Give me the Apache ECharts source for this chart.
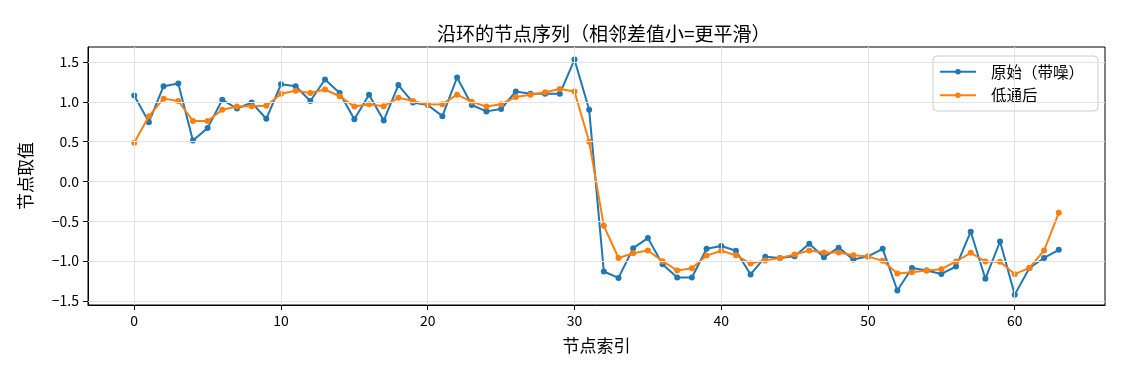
<!DOCTYPE html>
<html>
<head>
<meta charset="utf-8">
<script src="https://cdn.jsdelivr.net/npm/echarts@6/dist/echarts.min.js"></script>
<style>
html,body{margin:0;padding:0;background:#fff;}
#chart{width:1125px;height:375px;}
</style>
</head>
<body>
<div id="chart"></div>
<script>
const titleText = '沿环的节点序列（相邻差值小=更平滑）';
const xName = '节点索引';
const yName = '节点取值';
const seriesNames = ['原始（带噪）', '低通后'];
const xTicks = [0, 10, 20, 30, 40, 50, 60];
const yTicks = [-1.5, -1.0, -0.5, 0.0, 0.5, 1.0, 1.5];

const rawValues = [
  1.08, 0.745, 1.196, 1.23, 0.515, 0.67, 1.025, 0.916, 0.99, 0.787,
  1.22, 1.196, 1.01, 1.28, 1.11, 0.78, 1.09, 0.765, 1.21, 0.99,
  0.96, 0.82, 1.305, 0.96, 0.88, 0.91, 1.13, 1.10, 1.10, 1.10,
  1.53, 0.90, -1.13, -1.21, -0.837, -0.71, -1.04, -1.205, -1.205, -0.845,
  -0.81, -0.87, -1.167, -0.945, -0.96, -0.937, -0.78, -0.95, -0.83, -0.98,
  -0.94, -0.845, -1.368, -1.085, -1.117, -1.16, -1.067, -0.63, -1.22, -0.753,
  -1.42, -1.085, -0.96, -0.857
];
const smoothValues = [
  0.485, 0.82, 1.04, 1.01, 0.76, 0.76, 0.90, 0.94, 0.945, 0.95,
  1.10, 1.14, 1.11, 1.155, 1.07, 0.94, 0.97, 0.945, 1.05, 1.01,
  0.965, 0.97, 1.09, 1.00, 0.94, 0.97, 1.06, 1.09, 1.12, 1.16,
  1.13, 0.50, -0.556, -0.96, -0.90, -0.866, -1.00, -1.117, -1.09, -0.93,
  -0.87, -0.925, -1.03, -0.99, -0.96, -0.916, -0.866, -0.89, -0.89, -0.925,
  -0.94, -0.996, -1.155, -1.138, -1.117, -1.10, -1.004, -0.895, -1.004, -1.008,
  -1.163, -1.085, -0.866, -0.393
];

const FONT = '"Noto Sans CJK SC", "DejaVu Sans", sans-serif';
const idx = rawValues.map((_, i) => i);
const toPairs = arr => arr.map((v, i) => [idx[i], v]);

const gridLines = xTicks.map(v => ({ xAxis: v })).concat(yTicks.map(v => ({ yAxis: v })));

const chart = echarts.init(document.getElementById('chart'), null, { renderer: 'canvas' });
chart.setOption({
  animation: false,
  backgroundColor: '#fff',
  textStyle: { fontFamily: FONT },
  title: {
    text: titleText,
    left: 432, top: 19,
    textStyle: { fontFamily: FONT, fontSize: 19, fontWeight: 'normal', color: '#000' }
  },
  legend: {
    orient: 'vertical',
    right: 27, top: 56,
    backgroundColor: 'rgba(255,255,255,0.8)',
    borderColor: '#cccccc', borderWidth: 1, borderRadius: 4,
    padding: [8, 14, 8, 6],
    itemGap: 8, itemWidth: 36, itemHeight: 7,
    textStyle: { fontFamily: FONT, fontSize: 15.5, color: '#000', padding: [0, 0, 0, 10] },
    data: seriesNames
  },
  grid: {
    left: 88, right: 20, top: 47, bottom: 70,
    show: true, borderColor: '#000', borderWidth: 1, backgroundColor: 'transparent'
  },
  xAxis: {
    type: 'value', min: -3.15, max: 66.15,
    name: xName, nameLocation: 'middle', nameGap: 32,
    nameTextStyle: { fontFamily: FONT, fontSize: 17, color: '#000' },
    axisLine: { show: true, onZero: false, lineStyle: { color: '#000', width: 1 } },
    axisTick: { show: true, inside: false, length: 5, customValues: xTicks, lineStyle: { color: '#000' } },
    axisLabel: { customValues: xTicks, fontFamily: FONT, fontSize: 14, color: '#000', margin: 9 },
    splitLine: { show: false }
  },
  yAxis: {
    type: 'value', min: -1.55, max: 1.688,
    name: yName, nameLocation: 'middle', nameGap: 54, nameRotate: 90,
    nameTextStyle: { fontFamily: FONT, fontSize: 17, color: '#000' },
    axisLine: { show: true, onZero: false, lineStyle: { color: '#000', width: 1 } },
    axisTick: { show: true, inside: false, length: 5, customValues: yTicks, lineStyle: { color: '#000' } },
    axisLabel: {
      customValues: yTicks, fontFamily: FONT, fontSize: 14, color: '#000', margin: 9,
      formatter: v => v.toFixed(1).replace('-', '\u2212')
    },
    splitLine: { show: false }
  },
  series: [
    {
      name: '_grid', type: 'line', data: toPairs(smoothValues), silent: true, z: 0,
      showSymbol: false, lineStyle: { opacity: 0 }, tooltip: { show: false },
      markLine: {
        silent: true, symbol: 'none', label: { show: false },
        lineStyle: { color: '#e3e3e3', width: 1, type: 'solid' },
        data: gridLines
      }
    },
    {
      name: seriesNames[0], type: 'line', data: toPairs(rawValues), z: 2,
      symbol: 'circle', symbolSize: 6, showAllSymbol: true,
      itemStyle: { color: '#1f77b4' },
      lineStyle: { color: '#1f77b4', width: 2 }
    },
    {
      name: seriesNames[1], type: 'line', data: toPairs(smoothValues), z: 3,
      symbol: 'circle', symbolSize: 6, showAllSymbol: true,
      itemStyle: { color: '#ff7f0e' },
      lineStyle: { color: '#ff7f0e', width: 2 }
    }
  ]
});
</script>
</body>
</html>
